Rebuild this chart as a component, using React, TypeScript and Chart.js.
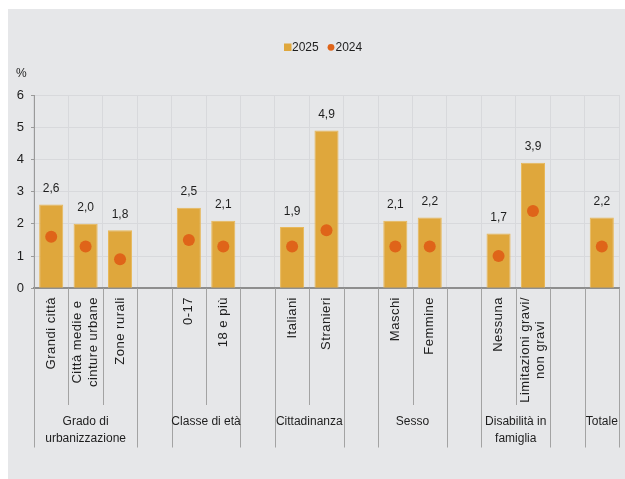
import React, { useEffect, useRef } from "react";
import { Chart, registerables } from "chart.js";

Chart.register(...registerables);

const categories: (string | string[])[] = [
  "Grandi città",
  ["Città medie e", "cinture urbane"],
  "Zone rurali",
  "",
  "0-17",
  "18 e più",
  "",
  "Italiani",
  "Stranieri",
  "",
  "Maschi",
  "Femmine",
  "",
  "Nessuna",
  ["Limitazioni gravi/", "non gravi"],
  "",
  "",
];

const values2025: (number | null)[] = [2.6, 2.0, 1.8, null, 2.5, 2.1, null, 1.9, 4.9, null, 2.1, 2.2, null, 1.7, 3.9, null, 2.2];
const values2024: (number | null)[] = [1.6, 1.3, 0.9, null, 1.5, 1.3, null, 1.3, 1.8, null, 1.3, 1.3, null, 1.0, 2.4, null, 1.3];

const groupLabels: string[][] = [
  ["Grado di", "urbanizzazione"],
  ["Classe di età"],
  ["Cittadinanza"],
  ["Sesso"],
  ["Disabilità in", "famiglia"],
  ["Totale"],
];
const groupStarts: number[] = [0, 4, 7, 10, 13, 16];
const groupEnds: number[] = [2, 5, 8, 11, 14, 16];

const seriesNames: string[] = ["2025", "2024"];
const yUnit = "%";

const BAR_COLOR = "#dfa73c";
const BAR_EDGE = "#e8b85a";
const DOT_COLOR = "#df6419";
const GRID = "#d8d9dc";
const TEXT = "#1e1e1e";
const SEP = "#a3a3a3";
const FONT = "'Liberation Sans', Arial, sans-serif";

const fmt = (v: number) => v.toFixed(1).replace(".", ",");

const customDraw = {
  id: "customDraw",
  afterDraw(chart: any) {
    const ctx: CanvasRenderingContext2D = chart.ctx;
    const xs = chart.scales.x;
    const area = chart.chartArea;
    const n = categories.length;
    const slot = (area.right - area.left) / n;
    const leftOf = (i: number) => xs.getPixelForValue(i) - slot / 2;
    const rightOf = (i: number) => xs.getPixelForValue(i) + slot / 2;
    const axisY = area.bottom;
    const shortEnd = 396;
    const longEnd = 438.5;

    ctx.save();
    // separators
    ctx.strokeStyle = SEP;
    ctx.lineWidth = 1;
    const longX: number[] = [];
    groupStarts.forEach((s, g) => {
      longX.push(leftOf(s));
      longX.push(rightOf(groupEnds[g]));
    });
    longX.forEach((x) => {
      const px = Math.round(x) + 0.5;
      ctx.beginPath();
      ctx.moveTo(px, axisY);
      ctx.lineTo(px, longEnd);
      ctx.stroke();
    });
    groupStarts.forEach((s, g) => {
      for (let i = s; i < groupEnds[g]; i++) {
        const px = Math.round(rightOf(i)) + 0.5;
        ctx.beginPath();
        ctx.moveTo(px, axisY);
        ctx.lineTo(px, shortEnd);
        ctx.stroke();
      }
    });

    // rotated category labels
    ctx.fillStyle = TEXT;
    ctx.font = `13px ${FONT}`;
    (ctx as any).letterSpacing = "0.5px";
    ctx.textAlign = "center";
    ctx.textBaseline = "middle";
    categories.forEach((lab, i) => {
      const lines = Array.isArray(lab) ? lab : [lab];
      if (!lines[0]) return;
      const w = Math.max(...lines.map((l) => ctx.measureText(l).width));
      const cx = xs.getPixelForValue(i);
      const cy = 288 + w / 2;
      const lh = 15.8;
      ctx.save();
      ctx.translate(cx, cy);
      ctx.rotate(-Math.PI / 2);
      lines.forEach((l, k) => {
        const off = (k - (lines.length - 1) / 2) * lh;
        ctx.fillText(l, 0, off);
      });
      ctx.restore();
    });
    (ctx as any).letterSpacing = "0px";

    // group labels
    ctx.font = `12px ${FONT}`;
    groupLabels.forEach((lines, g) => {
      const cx = (leftOf(groupStarts[g]) + rightOf(groupEnds[g])) / 2;
      lines.forEach((l, k) => {
        ctx.fillText(l, cx, 413 + k * 17);
      });
    });

    // value labels
    const meta = chart.getDatasetMeta(1);
    ctx.font = `12px ${FONT}`;
    ctx.textBaseline = "alphabetic";
    meta.data.forEach((el: any, i: number) => {
      const v = values2025[i];
      if (v == null) return;
      ctx.fillText(fmt(v), el.x, el.y - 12.5);
    });

    // unit
    ctx.textAlign = "left";
    ctx.textBaseline = "middle";
    ctx.fillText(yUnit, 8, 64.5);

    // legend
    ctx.fillStyle = BAR_COLOR;
    ctx.fillRect(276, 34.5, 7.5, 7.5);
    ctx.fillStyle = TEXT;
    ctx.fillText(seriesNames[0], 284, 38.5);
    ctx.fillStyle = DOT_COLOR;
    ctx.beginPath();
    ctx.arc(323, 38.3, 3.4, 0, Math.PI * 2);
    ctx.fill();
    ctx.fillStyle = TEXT;
    ctx.fillText(seriesNames[1], 327.5, 38.5);
    ctx.restore();
  },
};

export default function App() {
  const ref = useRef<HTMLCanvasElement | null>(null);
  useEffect(() => {
    if (!ref.current) return;
    const chart = new Chart(ref.current, {
      type: "bar",
      data: {
        labels: categories.map((c) => (Array.isArray(c) ? c.join(" ") : c)),
        datasets: [
          {
            type: "line",
            label: seriesNames[1],
            data: values2024,
            showLine: false,
            pointRadius: 6,
            pointHoverRadius: 6,
            pointBorderWidth: 0,
            pointBackgroundColor: DOT_COLOR,
            borderColor: DOT_COLOR,
            order: 0,
          } as any,
          {
            type: "bar",
            label: seriesNames[0],
            data: values2025,
            backgroundColor: BAR_COLOR,
            borderColor: BAR_EDGE,
            borderWidth: 1,
            barPercentage: 0.7,
            categoryPercentage: 1.0,
            order: 1,
          },
        ],
      },
      options: {
        responsive: false,
        animation: false,
        events: [],
        layout: { padding: { left: 0, right: 1, top: 86, bottom: 190.7 } },
        plugins: { legend: { display: false }, tooltip: { enabled: false } },
        scales: {
          x: {
            offset: true,
            grid: { offset: true, color: GRID, drawTicks: false, lineWidth: 1 },
            border: { color: "#8e8e8e", width: 2 },
            ticks: { display: false },
            afterFit: (s: any) => {
              s.height = 0;
            },
          },
          y: {
            min: 0,
            max: 6,
            ticks: {
              stepSize: 1,
              padding: 7,
              color: TEXT,
              font: { family: FONT, size: 13 },
            },
            grid: {
              color: (c: any) => (c.tick && c.tick.value === 0 ? "rgba(0,0,0,0)" : GRID),
              tickColor: "#9a9a9a",
              tickLength: 3,
            },
            border: { color: "#9a9a9a", width: 1 },
            afterFit: (s: any) => {
              s.width = 26;
            },
          },
        },
      } as any,
      plugins: [customDraw],
    });
    return () => chart.destroy();
  }, []);

  return (
    <div
      style={{
        position: "fixed",
        left: 8,
        top: 9,
        width: 617,
        height: 470,
        background: "#e6e7e9",
      }}
    >
      <canvas ref={ref} width={617} height={470} style={{ display: "block" }} />
    </div>
  );
}
